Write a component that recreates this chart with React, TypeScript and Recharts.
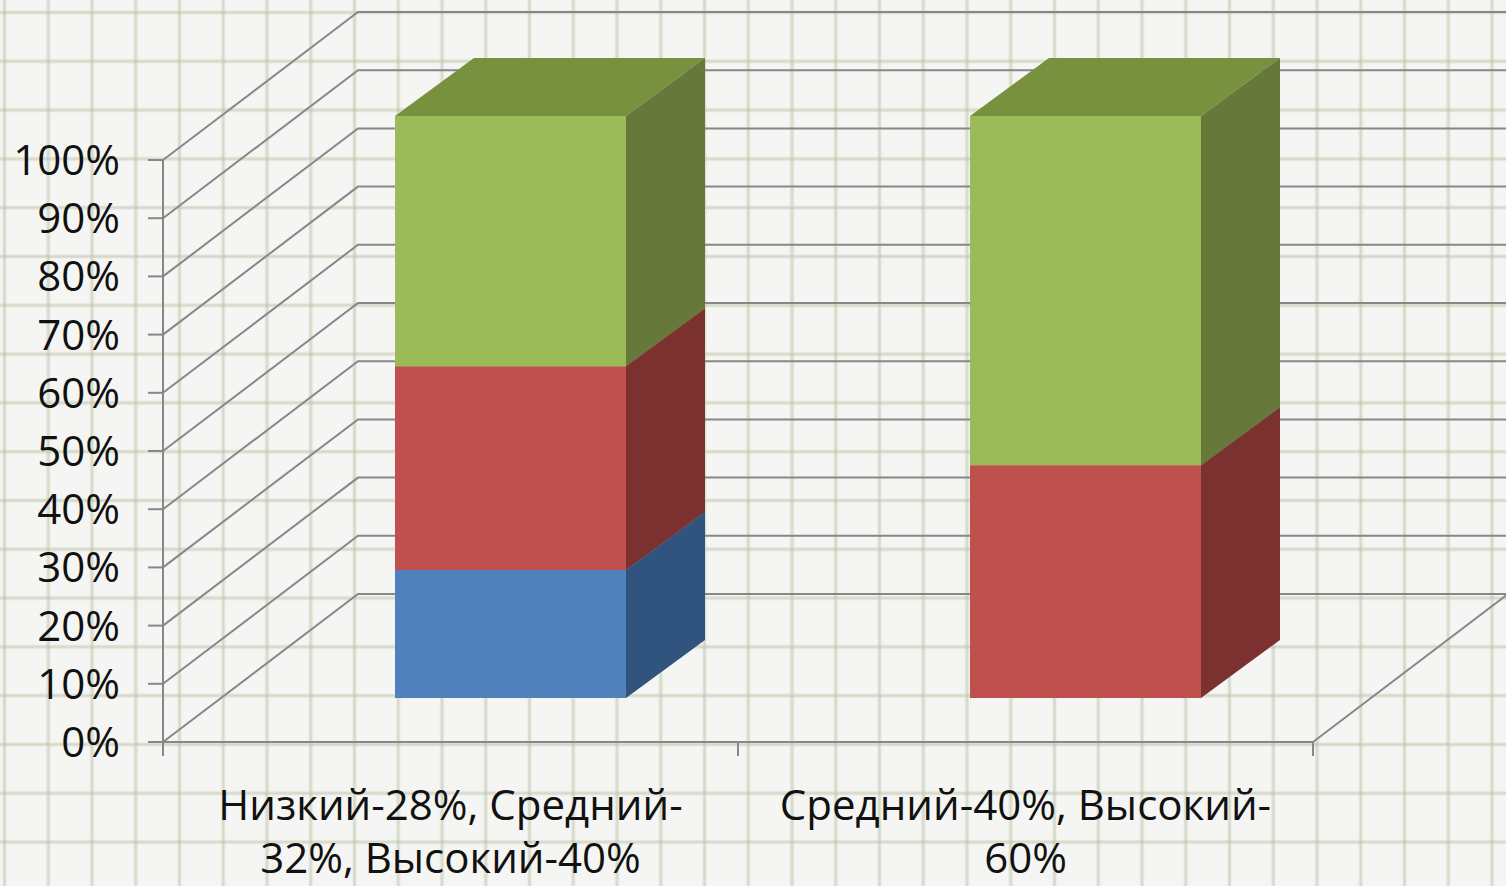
import React from 'react';
import { BarChart, Bar, XAxis, YAxis, CartesianGrid } from 'recharts';

// ---- data ----
const categories = ['Низкий-28%, Средний-32%, Высокий-40%', 'Средний-40%, Высокий-60%'];
const categoryLines = [
  ['Низкий-28%, Средний-', '32%, Высокий-40%'],
  ['Средний-40%, Высокий-', '60%'],
];
const seriesNames = ['Низкий', 'Средний', 'Высокий'];
const lowValues = [22, 0];
const midValues = [35, 40];
const highValues = [43, 60];
const yTicks = [0, 10, 20, 30, 40, 50, 60, 70, 80, 90, 100];

const data = categories.map((c, i) => ({
  category: c,
  low: lowValues[i],
  mid: midValues[i],
  high: highValues[i],
}));

// ---- styling / 3D projection ----
const W = 1506;
const H = 886;
const X_AXIS_H = 144;
const PLOT_BOTTOM = H - X_AXIS_H;
const WALL_DX = 195;
const WALL_DY = -148;
const BAR_DX = 60;
const BAR_DY = -44;
const DEPTH_DX = 79;
const DEPTH_DY = -58;
const AXIS_COLOR = '#878787';
const FONT = "'Open Sans', 'Noto Sans', sans-serif";

const palette = {
  low: { front: '#4f81bd', side: '#31547f', top: '#3f6ca2' },
  mid: { front: '#c0504d', side: '#7a3130', top: '#9a3f3d' },
  high: { front: '#9bbb59', side: '#66793a', top: '#77913f' },
};

const Box = (props: any) => {
  const { x, y, width, height, colors } = props;
  if (!height || height <= 0 || !isFinite(x) || !isFinite(y)) return <g />;
  const fx = x + BAR_DX;
  const fy = y + BAR_DY;
  const top = `${fx},${fy} ${fx + DEPTH_DX},${fy + DEPTH_DY} ${fx + width + DEPTH_DX},${fy + DEPTH_DY} ${fx + width},${fy}`;
  const side = `${fx + width},${fy} ${fx + width + DEPTH_DX},${fy + DEPTH_DY} ${fx + width + DEPTH_DX},${fy + height + DEPTH_DY} ${fx + width},${fy + height}`;
  return (
    <g>
      <polygon points={top} fill={colors.top} />
      <polygon points={side} fill={colors.side} />
      <rect x={fx} y={fy} width={width} height={height} fill={colors.front} />
    </g>
  );
};

const renderGridLine = (props: any) => {
  const { x1, y1, x2, index } = props;
  const bottom =
    typeof props.y === 'number' && typeof props.height === 'number' ? props.y + props.height : PLOT_BOTTOM;
  const isFloor = Math.abs(y1 - bottom) < 1;
  let d = `M${x1},${y1} L${x1 + WALL_DX},${y1 + WALL_DY} L${x2 + WALL_DX},${y1 + WALL_DY}`;
  if (isFloor) d += ` M${x2},${y1} L${x2 + WALL_DX},${y1 + WALL_DY}`;
  return <path key={`g-${index}-${y1}`} d={d} fill="none" stroke={AXIS_COLOR} strokeWidth={2} />;
};

const CategoryTick = (props: any) => {
  const { x, y, payload } = props;
  const idx = categories.indexOf(payload?.value);
  const lines = categoryLines[idx] || [String(payload?.value ?? '')];
  const half = typeof payload?.offset === 'number' && payload.offset > 0 ? payload.offset : 287.5;
  const axisY = y - 14;
  return (
    <g>
      <line x1={x - half} y1={axisY} x2={x - half} y2={axisY + 14} stroke={AXIS_COLOR} strokeWidth={2} />
      {idx === categories.length - 1 && (
        <line x1={x + half} y1={axisY} x2={x + half} y2={axisY + 14} stroke={AXIS_COLOR} strokeWidth={2} />
      )}
      <text x={x} y={y} textAnchor="middle" fontFamily={FONT} fontSize={42} fill="#111">
        {lines.map((l, i) => (
          <tspan key={i} x={x} dy={i === 0 ? 64 : 53}>
            {l}
          </tspan>
        ))}
      </text>
    </g>
  );
};

export default function App() {
  const lineC = 'rgba(185,192,165,0.55)';
  const bg: React.CSSProperties = {
    position: 'absolute',
    left: 0,
    top: 0,
    width: W,
    height: H,
    overflow: 'hidden',
    backgroundColor: '#f5f6f3',
    backgroundImage:
      `linear-gradient(to right, transparent 0px, ${lineC} 2px, ${lineC} 3px, transparent 5px), linear-gradient(to bottom, transparent 0px, ${lineC} 2px, ${lineC} 3px, transparent 5px)`,
    backgroundSize: '43.76px 100%, 100% 48.8px',
    backgroundPosition: '2px 0px, 0px 10px',
  };
  return (
    <div style={bg}>
      <BarChart
        width={W}
        height={H}
        data={data}
        margin={{ top: 160, right: 193, bottom: 0, left: 0 }}
        barSize={231}
      >
        <CartesianGrid vertical={false} horizontal={renderGridLine} stroke={AXIS_COLOR} />
        <XAxis
          dataKey="category"
          height={X_AXIS_H}
          interval={0}
          tickLine={false}
          tickSize={14}
          tickMargin={0}
          axisLine={{ stroke: AXIS_COLOR, strokeWidth: 2 }}
          tick={<CategoryTick />}
        />
        <YAxis
          type="number"
          domain={[0, 100]}
          ticks={yTicks}
          interval={0}
          width={163}
          tickSize={15}
          tickMargin={28}
          tickFormatter={(v: number) => `${v}%`}
          axisLine={{ stroke: AXIS_COLOR, strokeWidth: 2 }}
          tickLine={{ stroke: AXIS_COLOR, strokeWidth: 2 }}
          tick={{ fill: '#111', fontSize: 42, fontFamily: FONT }}
        />
        <Bar
          dataKey="low"
          name={seriesNames[0]}
          stackId="s"
          isAnimationActive={false}
          shape={(p: any) => <Box {...p} colors={palette.low} />}
        />
        <Bar
          dataKey="mid"
          name={seriesNames[1]}
          stackId="s"
          isAnimationActive={false}
          shape={(p: any) => <Box {...p} colors={palette.mid} />}
        />
        <Bar
          dataKey="high"
          name={seriesNames[2]}
          stackId="s"
          isAnimationActive={false}
          shape={(p: any) => <Box {...p} colors={palette.high} />}
        />
      </BarChart>
    </div>
  );
}
